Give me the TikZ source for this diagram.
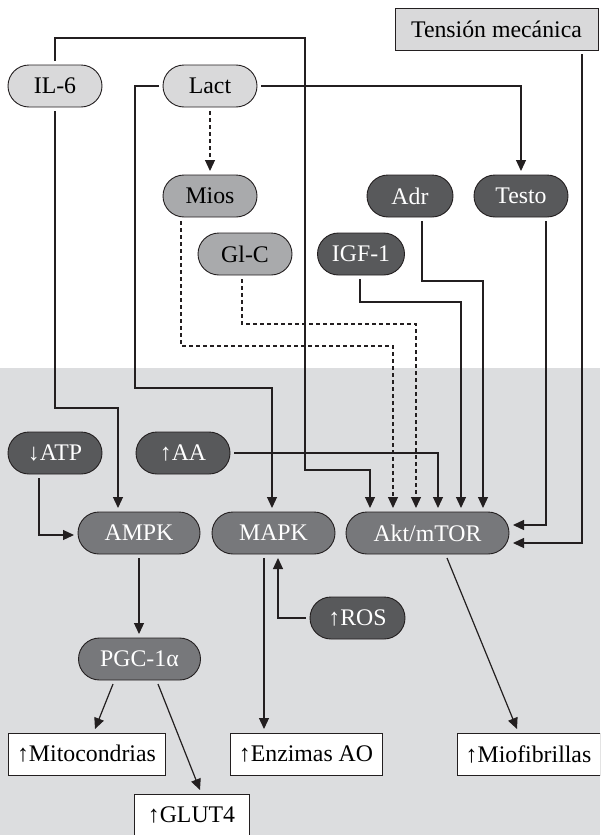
\documentclass[tikz,border=0pt]{standalone}
\usepackage{fontspec}
\setmainfont{Liberation Serif}
\usetikzlibrary{arrows.meta}
\definecolor{bggray}{HTML}{DCDDDF}
\definecolor{ltfill}{HTML}{D9D9DA}
\definecolor{mdfill}{HTML}{A9AAAC}
\definecolor{dkfill}{HTML}{58595B}
\definecolor{m2fill}{HTML}{77787B}
\definecolor{linec}{HTML}{231F20}
\tikzset{
  pill/.style={draw=linec, line width=0.9pt, rounded corners=21pt, minimum height=42pt, inner sep=0pt, outer sep=4pt, font=\fontsize{23.8}{27}\selectfont},
  lt/.style={pill, fill=ltfill, text=black},
  md/.style={pill, fill=mdfill, text=black},
  dk/.style={pill, fill=dkfill, text=white},
  m2/.style={pill, fill=m2fill, text=white},
  box/.style={draw=linec, line width=0.9pt, fill=white, minimum height=42pt, inner sep=0pt, outer sep=4pt, font=\fontsize{23.8}{27}\selectfont},
  ln/.style={draw=linec, line width=1.2pt},
  arr/.style={ln, -{Triangle[length=11pt,width=10pt]}},
  dsh/.style={dash pattern=on 4pt off 3pt}
}
\begin{document}
\begin{tikzpicture}[x=1pt,y=-1pt]
\useasboundingbox (0,0) rectangle (600,835);
\clip (0,0) rectangle (600,835);
\fill[white] (0,0) rectangle (600,368);
\fill[bggray] (0,368) rectangle (600,835);

\node[lt, minimum width=94pt] (IL6) at (55,86) {IL-6};
\node[lt, minimum width=94pt] (Lact) at (210,86) {Lact};
\node[md, minimum width=94pt] (Mios) at (210,196) {Mios};
\node[md, minimum width=94pt] (GlC) at (245,254) {Gl-C};
\node[dk, minimum width=87pt] (IGF) at (361,254) {IGF-1};
\node[dk, minimum width=86pt] (Adr) at (410,196) {Adr};
\node[dk, minimum width=94pt] (Testo) at (521,196) {Testo};
\node[box, fill=ltfill, minimum width=203pt, minimum height=42pt] (Tens) at (496.5,29) {Tensión mecánica};
\node[dk, minimum width=94pt] (ATP) at (55,453) {↓ATP};
\node[dk, minimum width=94pt] (AA) at (183,453) {↑AA};
\node[m2, minimum width=122pt] (AMPK) at (139,533) {AMPK};
\node[m2, minimum width=123pt] (MAPK) at (273.5,533) {MAPK};
\node[m2, minimum width=163pt] (Akt) at (427.5,533) {Akt/mTOR};
\node[dk, minimum width=95pt] (ROS) at (357.5,618) {↑ROS};
\node[m2, minimum width=122pt] (PGC) at (139.5,659) {PGC-1α};
\node[box, minimum width=157pt] (Mito) at (86.5,754) {↑Mitocondrias};
\node[box, minimum width=115pt] (GLUT) at (191.5,815) {↑GLUT4};
\node[box, minimum width=152pt] (Enz) at (306,754) {↑Enzimas AO};
\node[box, minimum width=143pt] (Miof) at (528.5,754) {↑Miofibrillas};

% connectors
\draw[arr] (IL6.north) |- (305,38) |- (370,470) -- (370,0 |- Akt.north);
\draw[arr] (IL6.south) |- (118,408) -- (118,0 |- AMPK.north);
\draw[arr] (Lact.west) -| (135,388) -- (272,388) -- (272,0 |- MAPK.north);
\draw[arr] (Lact.east) -| (Testo.north);
\draw[arr,dsh] (Lact) -- (Mios);
\draw[arr,dsh] (181,0 |- Mios.south) |- (393,346) -- (393,0 |- Akt.north);
\draw[arr,dsh] (242,0 |- GlC.south) |- (416,324) -- (416,0 |- Akt.north);
\draw[arr] (AA.east) -| (438,0 |- Akt.north);
\draw[arr] (360,0 |- IGF.south) |- (461,302) -- (461,0 |- Akt.north);
\draw[arr] (422,0 |- Adr.south) |- (483,281) -- (483,0 |- Akt.north);
\draw[arr] (546,0 |- Testo.south) |- (Akt.east |- 0,525);
\draw[arr] (582,0 |- Tens.south) |- (Akt.east |- 0,543);
\draw[arr] (39,0 |- ATP.south) |- (AMPK.west |- 0,535);
\draw[arr] (AMPK.south) -- (AMPK.south |- PGC.north);
\draw[arr] (264,0 |- MAPK.south) -- (264,0 |- Enz.north);
\draw[arr] (ROS.west) -| (278,0 |- MAPK.south);
\draw[arr] (113,0 |- PGC.south) -- (95,0 |- Mito.north);
\draw[arr] (158,0 |- PGC.south) -- (200,0 |- GLUT.north);
\draw[arr] (447,0 |- Akt.south) -- (517,0 |- Miof.north);
\end{tikzpicture}
\end{document}
